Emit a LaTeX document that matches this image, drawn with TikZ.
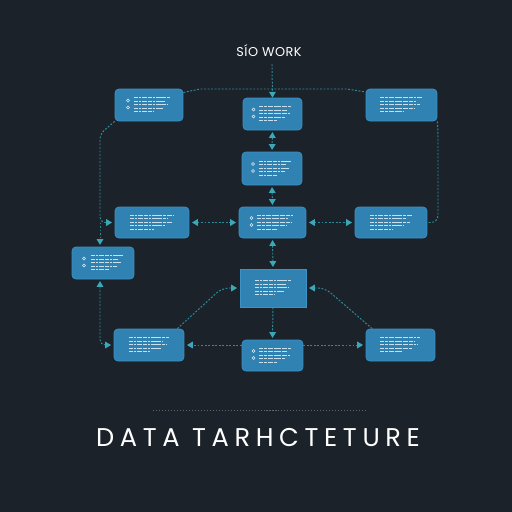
\documentclass[tikz,border=0pt]{standalone}
\usepackage{fontspec}
\setmainfont{Poppins}
\newfontfamily\titlefont[LetterSpace=22]{Poppins}
\newfontfamily\headfont[LetterSpace=4]{Poppins}
\usetikzlibrary{arrows.meta,calc}
\definecolor{bgc}{HTML}{1B2229}
\definecolor{boxc}{HTML}{3082B3}
\definecolor{boxe}{HTML}{3C92C4}
\definecolor{linec}{HTML}{2C8C9A}
\definecolor{tipc}{HTML}{3AA8B8}
\definecolor{sepc}{HTML}{5A6670}
\tikzset{
  box/.style={rounded corners=2.2pt, fill=boxc, draw=boxe, line width=0.4pt, inner sep=0pt},
  sqbox/.style={fill=boxc, draw=boxe, line width=0.4pt, inner sep=0pt},
  dline/.style={draw=linec, line width=0.55pt, dash pattern=on 1.1pt off 0.9pt},
  tp/.tip={Triangle[width=3.8pt,length=3.3pt,color=tipc]},
  txt/.style={draw=white, line width=0.28pt, opacity=0.75, dash pattern=on 2.2pt off 0.5pt on 1.4pt off 0.5pt on 3pt off 0.5pt},
  ico/.style={draw=white, line width=0.35pt, opacity=0.85}
}
\newcommand\txtlines[3]{%
  \foreach \dy/\f in {-7.5/1,-4/0.85,-0.5/0.95,3/0.8,6.5/0.55}{
    \draw[txt] ($(#1.center)+(-#2+#3,\dy)$) -- ++({2*#2*\f},0);
  }}
\newcommand\icons[2]{%
  \draw[ico] ($(#1.center)+(-#2,-4.5)$) circle[radius=1.5];
  \draw[ico] ($(#1.center)+(-#2,2.5)$) circle[radius=1.5];}
\begin{document}
\begin{tikzpicture}[x=0.02cm,y=-0.02cm]
  \fill[bgc] (0,0) rectangle (512,512);
  \useasboundingbox (0,0) rectangle (512,512);

  % title
  \node[text=white, font=\headfont\fontsize{7.3}{8}\selectfont] (T) at (269,51) {SÍO WORK};

  % boxes
  \node[box, minimum width=1.36cm, minimum height=0.64cm] (A) at (149,105) {};
  \node[box, minimum width=1.18cm, minimum height=0.64cm] (B) at (272.5,114) {};
  \node[box, minimum width=1.42cm, minimum height=0.64cm] (C) at (401.5,105) {};
  \node[box, minimum width=1.20cm, minimum height=0.66cm] (D) at (272,168.5) {};
  \node[box, minimum width=1.48cm, minimum height=0.62cm] (E) at (152,222.5) {};
  \node[box, minimum width=1.34cm, minimum height=0.62cm] (F) at (272.5,222.5) {};
  \node[box, minimum width=1.44cm, minimum height=0.62cm] (G) at (391,222.5) {};
  \node[box, minimum width=1.24cm, minimum height=0.64cm] (H) at (103,263) {};
  \node[sqbox, minimum width=1.32cm, minimum height=0.76cm] (I) at (273,288) {};
  \node[box, minimum width=1.40cm, minimum height=0.64cm] (J) at (149,345) {};
  \node[box, minimum width=1.22cm, minimum height=0.62cm] (K) at (272.5,355.5) {};
  \node[box, minimum width=1.38cm, minimum height=0.64cm] (L) at (400.5,345) {};

  % pseudo text inside boxes
  \txtlines{A}{18}{3}\icons{A}{21}
  \txtlines{B}{16}{3}\icons{B}{19}
  \txtlines{C}{21}{0}
  \txtlines{D}{16}{3}\icons{D}{19}
  \txtlines{E}{22}{0}
  \txtlines{F}{18}{3}\icons{F}{21}
  \txtlines{G}{21}{0}
  \txtlines{H}{16}{4}\icons{H}{19}
  \txtlines{I}{18}{0}
  \txtlines{J}{20}{0}
  \txtlines{K}{16}{3}\icons{K}{19}
  \txtlines{L}{20}{0}

  % coordinates
  \coordinate (t0) at (272,64);
  \coordinate (h1) at (200,89);
  \coordinate (h2) at (347,89);
  \coordinate (l1) at (100,134);
  \coordinate (l2) at (100,222.5);
  \coordinate (r1) at (438,131);
  \coordinate (r2) at (438,222.5);
  \coordinate (j1) at (222,288);
  \coordinate (k1) at (325,288);
  \coordinate (s1) at (153,410);
  \coordinate (s2) at (367,410);

  % connectors
  \draw[dline,-tp] (t0) -- (B.north);
  \draw[dline] (A.20) -- (h1) -- (h2) -- (C.160);
  \draw[dline,tp-tp,shorten <=1pt,shorten >=1pt] (B.south) -- (D.north);
  \draw[dline,tp-tp,shorten <=1pt,shorten >=1pt] (D.south) -- (F.north);
  \draw[dline,tp-tp,shorten <=1.5pt,shorten >=1.5pt] (E.east) -- (F.west);
  \draw[dline,tp-tp,shorten <=1.5pt,shorten >=1.5pt] (F.east) -- (G.west);
  \draw[dline,tp-tp,shorten <=1pt,shorten >=1pt] (F.south) -- (I.north);
  \draw[dline,-tp,shorten >=1pt] (I.south) -- (K.north);
  \draw[dline,-tp,shorten >=1.5pt] (K.west |- J.east) -- (J.east);
  \draw[dline,-tp,shorten >=1.5pt] (K.east |- L.west) -- (L.west);
  \draw[dline,-tp,rounded corners=4pt,shorten >=1.5pt] (J.30) -- (j1) -- (I.west);
  \draw[dline,-tp,rounded corners=4pt,shorten >=1.5pt] (L.150) -- (k1) -- (I.east);
  \draw[dline,-tp,rounded corners=3pt,shorten >=1.5pt] (A.south west) -- (l1) -- (l2) -- (E.west);
  \draw[dline,-tp,shorten >=1pt] (l2) -- (l2 |- H.north);
  \draw[dline,tp-tp,rounded corners=3pt,shorten <=1pt,shorten >=1.5pt] (l2 |- H.south) -- (l2 |- J.west) -- (J.west);
  \draw[dline,rounded corners=4pt] (C.south east) -- (r1) -- (r2) -- (G.east);

  % separator
  \draw[sepc, line width=0.5pt, dash pattern=on 0.6pt off 1.1pt] (s1) -- (s2);

  % bottom title
  \node[text=white, font=\titlefont\fontsize{14.6}{16}\selectfont] (BT) at (258,438) {DATA TARHCTETURE};
\end{tikzpicture}
\end{document}
